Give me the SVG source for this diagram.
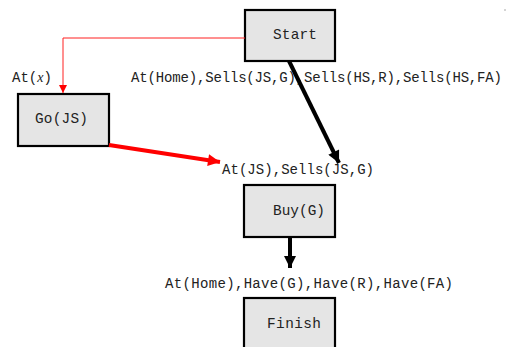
<svg xmlns="http://www.w3.org/2000/svg" width="530" height="347" viewBox="0 0 530 347">
<style>
.box{fill:#e5e5e5;stroke:#000;stroke-width:2.2}
.t{font-family:"Liberation Mono","Courier New",monospace;font-size:14.4px;fill:#222}
.lbl{font-family:"Liberation Mono","Courier New",monospace;font-size:14px;fill:#222}
.m{font-family:"Liberation Serif","Times New Roman",serif;font-style:italic}
</style>
<defs>
<marker id="ar" viewBox="0 0 10 10" refX="10" refY="5" markerWidth="3.6" markerHeight="3" orient="auto" markerUnits="strokeWidth"><path d="M0,0 L10,5 L0,10 z" fill="#ff0000"/></marker>
<marker id="ab" viewBox="0 0 10 10" refX="10" refY="5" markerWidth="6" markerHeight="3" orient="auto" markerUnits="strokeWidth"><path d="M0,0 L10,5 L0,10 z" fill="#000"/></marker>
<marker id="arthin" viewBox="0 0 10 10" refX="10" refY="5" markerWidth="14" markerHeight="8" orient="auto" markerUnits="strokeWidth"><path d="M0,0 L10,5 L0,10 z" fill="#ff0000"/></marker>
</defs>
<g id="labels">
<text class="lbl" x="12" y="82">At(<tspan class="m">x</tspan>)</text>
<text class="lbl" x="131" y="82" textLength="371" lengthAdjust="spacing">At(Home),Sells(JS,G),Sells(HS,R),Sells(HS,FA)</text>
<text class="lbl" x="222" y="174" textLength="152" lengthAdjust="spacing">At(JS),Sells(JS,G)</text>
<text class="lbl" x="165" y="288" textLength="288" lengthAdjust="spacing">At(Home),Have(G),Have(R),Have(FA)</text>
</g>
<g id="start"><rect class="box" x="245" y="10" width="90" height="51"/><text class="t" x="273" y="39" textLength="44">Start</text></g>
<g id="go"><rect class="box" x="18" y="94" width="91" height="52"/><text class="t" x="35" y="123" textLength="53">Go(JS)</text></g>
<g id="buy"><rect class="box" x="244" y="185" width="91" height="52"/><text class="t" x="273" y="215" textLength="52">Buy(G)</text></g>
<g id="finish"><rect class="box" x="244" y="298" width="91" height="52"/><text class="t" x="267" y="328" textLength="54">Finish</text></g>
<g id="connectors">
<path d="M245,38 H63 V93" fill="none" stroke="#ff2020" stroke-width="1" marker-end="url(#arthin)"/>
<path d="M109,145 L220,162" fill="none" stroke="#ff0000" stroke-width="4" marker-end="url(#ar)"/>
<path d="M289,61 L339,163" fill="none" stroke="#000" stroke-width="4" marker-end="url(#ab)"/>
<path d="M290,237 V268" fill="none" stroke="#000" stroke-width="4" marker-end="url(#ab)"/>
</g>
<circle cx="505" cy="10" r="0.7" fill="#888"/>
</svg>
